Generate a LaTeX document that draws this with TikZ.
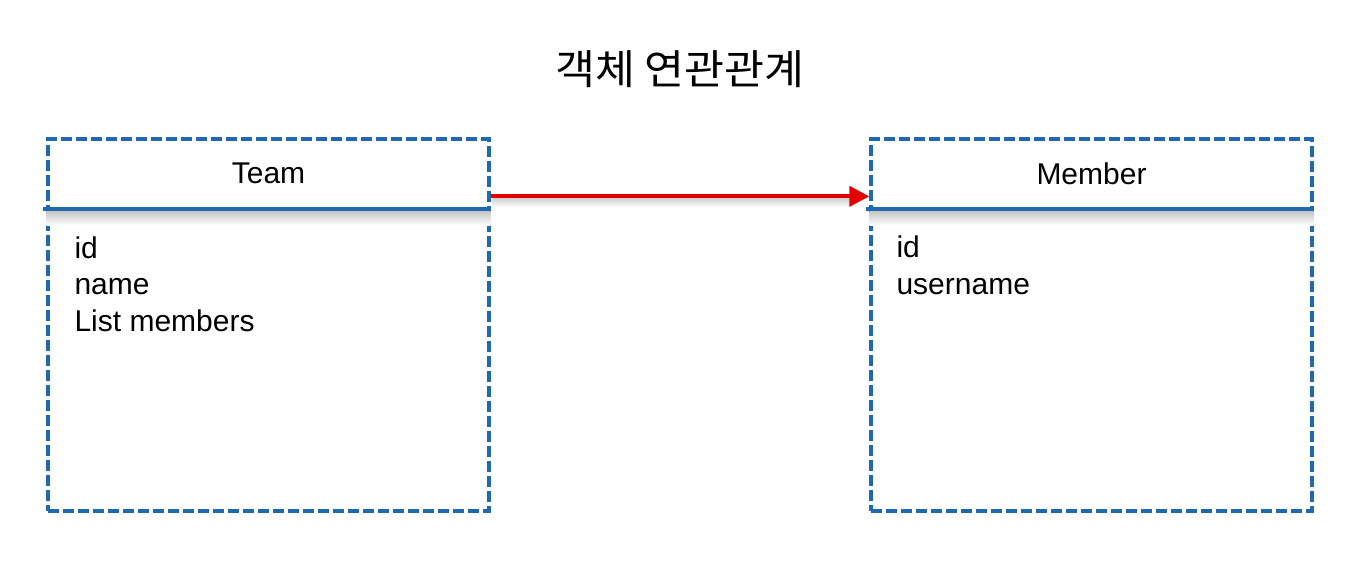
\documentclass[tikz,border=0pt]{standalone}
\usepackage{fontspec}
\setmainfont{Liberation Sans}
\newfontfamily\cjk{Noto Sans CJK KR}
\usetikzlibrary{arrows.meta}
\definecolor{boxblue}{RGB}{33,105,175}
\definecolor{arrred}{RGB}{228,0,0}
\begin{document}
\begin{tikzpicture}[x=1pt,y=-1pt,
  classbox/.style={draw=boxblue, line width=3.3pt, dash pattern=on 11pt off 4pt,
    minimum width=441pt, minimum height=372pt, inner sep=0pt},
  headtext/.style={font=\fontsize{30}{36}\selectfont, inner sep=0pt},
  attrtext/.style={font=\fontsize{30}{36.5}\selectfont, inner sep=0pt, align=left, anchor=base west},
  divider/.style={draw=boxblue, line width=4pt},
  relarrow/.style={draw=arrred, line width=4pt, -{Triangle[length=20pt,width=20pt]}},
  softshadow/.style={top color=black!22, bottom color=white}
]
\useasboundingbox[fill=white] (0,0) rectangle (1357,574);

% title
\node[xscale=1.06] (title) at (680,69) {\cjk\fontsize{41}{48}\selectfont 객체 연관관계};

% boxes
\node[classbox] (team) at (268.5,325) {};
\node[classbox] (member) at (1091.5,325) {};

% shadows under dividers
\shade[softshadow] ([yshift=-74pt]team.north west) rectangle ([yshift=-88pt]team.north east);
\shade[softshadow] ([yshift=-74pt]member.north west) rectangle ([yshift=-88pt]member.north east);

% dividers
\draw[divider] ([xshift=-3pt,yshift=-72pt]team.north west) -- ([yshift=-72pt]team.north east);
\draw[divider] ([xshift=-3pt,yshift=-72pt]member.north west) -- ([yshift=-72pt]member.north east);

% headers
\node[headtext] (teamname) at ([yshift=-36pt]team.north) {Team};
\node[headtext] (membername) at ([yshift=-36pt]member.north) {Member};

% attributes (base anchor = baseline of the last line)
\node[attrtext] (teamattr) at ([xshift=28pt,yshift=-194pt]team.north west) {id\\name\\List members};
\node[attrtext] (memberattr) at ([xshift=27pt,yshift=-157pt]member.north west) {id\\username};

% arrow with shadow
\shade[top color=black!18, bottom color=white] ([xshift=2pt,yshift=-61pt]team.north east) rectangle ([xshift=-20pt,yshift=-70pt]member.north west);
\draw[relarrow] ([yshift=-59pt]team.north east) -- ([yshift=-59pt]member.north west);
\end{tikzpicture}
\end{document}
